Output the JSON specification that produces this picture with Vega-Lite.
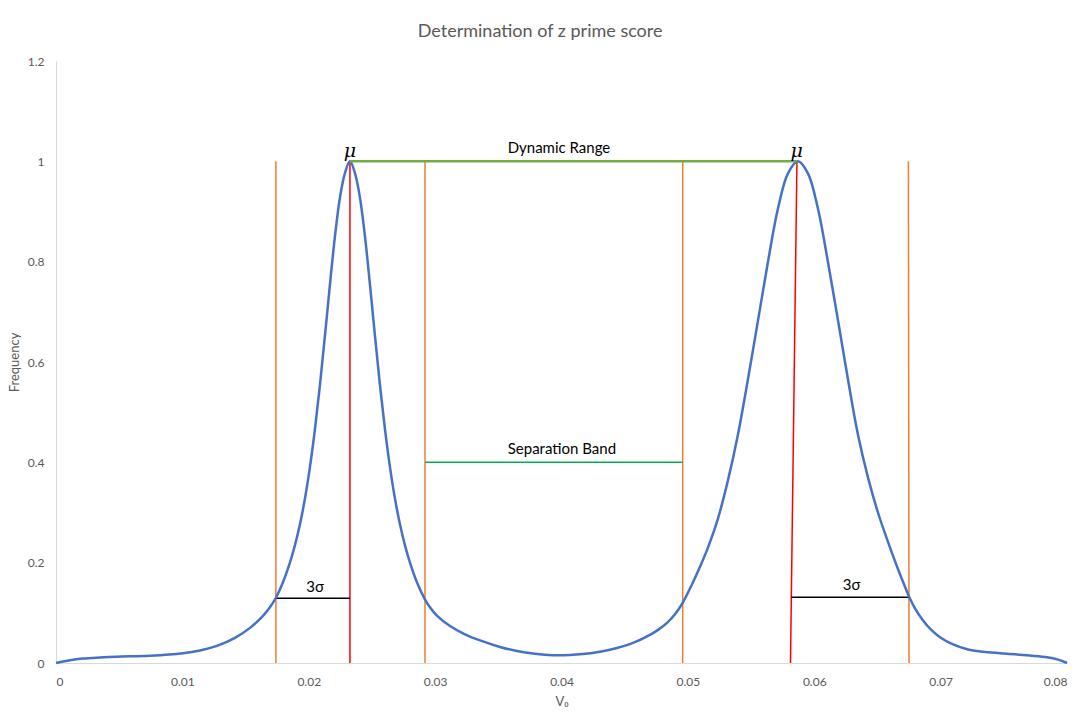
{
  "$schema": "https://vega.github.io/schema/vega-lite/v6.json",
  "autosize": {"type": "none"},
  "width": 1011,
  "height": 602,
  "padding": {"left": 56, "top": 61, "right": 18, "bottom": 52},
  "title": {
    "text": "Determination of z prime score",
    "font": "Lato",
    "fontSize": 18,
    "fontWeight": "normal",
    "color": "#595959",
    "anchor": "middle",
    "frame": "bounds",
    "offset": 14
  },
  "config": {
    "view": {"stroke": null},
    "font": "Lato",
    "axis": {
      "grid": false,
      "ticks": false,
      "domainColor": "#D9D9D9",
      "domainWidth": 1,
      "labelFont": "Lato",
      "labelFontSize": 12,
      "labelColor": "#595959",
      "titleFont": "Lato",
      "titleFontSize": 13,
      "titleFontWeight": "normal",
      "titleColor": "#595959"
    }
  },
  "datasets": {
    "curve": [
      {"v0": 0, "freq": 0},
      {"v0": 0.0011, "freq": 0.0055},
      {"v0": 0.00213, "freq": 0.0088},
      {"v0": 0.00348, "freq": 0.011},
      {"v0": 0.0048, "freq": 0.0126},
      {"v0": 0.00743, "freq": 0.0145},
      {"v0": 0.01005, "freq": 0.0195},
      {"v0": 0.01139, "freq": 0.025},
      {"v0": 0.01274, "freq": 0.034},
      {"v0": 0.01416, "freq": 0.05},
      {"v0": 0.01535, "freq": 0.07},
      {"v0": 0.01638, "freq": 0.094},
      {"v0": 0.01693, "freq": 0.111},
      {"v0": 0.0174, "freq": 0.13},
      {"v0": 0.01796, "freq": 0.161},
      {"v0": 0.01851, "freq": 0.2},
      {"v0": 0.01891, "freq": 0.235},
      {"v0": 0.0193, "freq": 0.276},
      {"v0": 0.0197, "freq": 0.328},
      {"v0": 0.02009, "freq": 0.39},
      {"v0": 0.02049, "freq": 0.466},
      {"v0": 0.02089, "freq": 0.555},
      {"v0": 0.02128, "freq": 0.652},
      {"v0": 0.02168, "freq": 0.755},
      {"v0": 0.02207, "freq": 0.85},
      {"v0": 0.02247, "freq": 0.928},
      {"v0": 0.02286, "freq": 0.976},
      {"v0": 0.02326, "freq": 1.0},
      {"v0": 0.02366, "freq": 0.976},
      {"v0": 0.02405, "freq": 0.928},
      {"v0": 0.02445, "freq": 0.85},
      {"v0": 0.02484, "freq": 0.755},
      {"v0": 0.02524, "freq": 0.652},
      {"v0": 0.02563, "freq": 0.555},
      {"v0": 0.02603, "freq": 0.466},
      {"v0": 0.02643, "freq": 0.39},
      {"v0": 0.02682, "freq": 0.328},
      {"v0": 0.02722, "freq": 0.276},
      {"v0": 0.02761, "freq": 0.235},
      {"v0": 0.02801, "freq": 0.2},
      {"v0": 0.02856, "freq": 0.161},
      {"v0": 0.02915, "freq": 0.129},
      {"v0": 0.02959, "freq": 0.111},
      {"v0": 0.03014, "freq": 0.0945},
      {"v0": 0.03118, "freq": 0.0737},
      {"v0": 0.03236, "freq": 0.0572},
      {"v0": 0.03378, "freq": 0.043},
      {"v0": 0.03513, "freq": 0.032},
      {"v0": 0.03647, "freq": 0.024},
      {"v0": 0.0379, "freq": 0.0185},
      {"v0": 0.03933, "freq": 0.0155},
      {"v0": 0.04067, "freq": 0.016},
      {"v0": 0.0417, "freq": 0.018},
      {"v0": 0.04305, "freq": 0.0225},
      {"v0": 0.04439, "freq": 0.03},
      {"v0": 0.04566, "freq": 0.04},
      {"v0": 0.047, "freq": 0.056},
      {"v0": 0.04764, "freq": 0.066},
      {"v0": 0.04835, "freq": 0.08},
      {"v0": 0.04898, "freq": 0.097},
      {"v0": 0.04961, "freq": 0.121},
      {"v0": 0.05033, "freq": 0.157},
      {"v0": 0.05096, "freq": 0.192},
      {"v0": 0.05159, "freq": 0.23},
      {"v0": 0.05238, "freq": 0.288},
      {"v0": 0.05317, "freq": 0.364},
      {"v0": 0.05396, "freq": 0.455},
      {"v0": 0.05475, "freq": 0.565},
      {"v0": 0.05555, "freq": 0.683},
      {"v0": 0.05634, "freq": 0.8},
      {"v0": 0.05713, "freq": 0.906},
      {"v0": 0.05792, "freq": 0.976},
      {"v0": 0.05871, "freq": 1.0},
      {"v0": 0.0595, "freq": 0.976},
      {"v0": 0.06029, "freq": 0.906},
      {"v0": 0.06108, "freq": 0.8},
      {"v0": 0.06188, "freq": 0.683},
      {"v0": 0.06267, "freq": 0.565},
      {"v0": 0.06346, "freq": 0.455},
      {"v0": 0.06425, "freq": 0.37},
      {"v0": 0.06504, "freq": 0.3},
      {"v0": 0.06584, "freq": 0.241},
      {"v0": 0.06663, "freq": 0.187},
      {"v0": 0.06702, "freq": 0.162},
      {"v0": 0.0675, "freq": 0.1325},
      {"v0": 0.06797, "freq": 0.109},
      {"v0": 0.06861, "freq": 0.0847},
      {"v0": 0.06924, "freq": 0.0664},
      {"v0": 0.06995, "freq": 0.0515},
      {"v0": 0.07098, "freq": 0.037},
      {"v0": 0.07217, "freq": 0.027},
      {"v0": 0.07335, "freq": 0.0225},
      {"v0": 0.0747, "freq": 0.0195},
      {"v0": 0.07588, "freq": 0.0172},
      {"v0": 0.07707, "freq": 0.0148},
      {"v0": 0.07842, "freq": 0.0115},
      {"v0": 0.07929, "freq": 0.0068},
      {"v0": 0.08, "freq": 0}
    ],
    "segments": [
      {"seg": "bound1", "kind": "bound", "v0": 0.0174, "freq": 0},
      {"seg": "bound1", "kind": "bound", "v0": 0.0174, "freq": 1},
      {"seg": "mean1", "kind": "mean", "v0": 0.02326, "freq": 0},
      {"seg": "mean1", "kind": "mean", "v0": 0.02326, "freq": 1},
      {"seg": "bound2", "kind": "bound", "v0": 0.0292, "freq": 0},
      {"seg": "bound2", "kind": "bound", "v0": 0.0292, "freq": 1},
      {"seg": "bound3", "kind": "bound", "v0": 0.04959, "freq": 0},
      {"seg": "bound3", "kind": "bound", "v0": 0.04959, "freq": 1},
      {"seg": "mean2", "kind": "mean", "v0": 0.05812, "freq": 0},
      {"seg": "mean2", "kind": "mean", "v0": 0.05863, "freq": 1},
      {"seg": "bound4", "kind": "bound", "v0": 0.0675, "freq": 0},
      {"seg": "bound4", "kind": "bound", "v0": 0.06745, "freq": 1},
      {"seg": "sigma1", "kind": "sigma", "v0": 0.0174, "freq": 0.129},
      {"seg": "sigma1", "kind": "sigma", "v0": 0.02326, "freq": 0.129},
      {"seg": "sigma2", "kind": "sigma", "v0": 0.05819, "freq": 0.131},
      {"seg": "sigma2", "kind": "sigma", "v0": 0.0675, "freq": 0.131},
      {"seg": "band", "kind": "band", "v0": 0.0292, "freq": 0.4},
      {"seg": "band", "kind": "band", "v0": 0.04959, "freq": 0.4},
      {"seg": "range", "kind": "range", "v0": 0.02326, "freq": 1},
      {"seg": "range", "kind": "range", "v0": 0.0586, "freq": 1}
    ],
    "labels": [
      {"text": "μ", "kind": "mu", "v0": 0.02326, "freq": 1.021},
      {"text": "μ", "kind": "mu", "v0": 0.0586, "freq": 1.021},
      {"text": "Dynamic Range", "kind": "note", "v0": 0.0398, "freq": 1.027},
      {"text": "Separation Band", "kind": "note", "v0": 0.04003, "freq": 0.4266},
      {"text": "3σ", "kind": "note", "v0": 0.0205, "freq": 0.151},
      {"text": "3σ", "kind": "note", "v0": 0.06296, "freq": 0.155}
    ]
  },
  "encoding": {
    "x": {
      "field": "v0",
      "type": "quantitative",
      "title": "V₀",
      "scale": {"domain": [0, 0.08], "nice": false, "zero": false},
      "axis": {
        "values": [0, 0.01, 0.02, 0.03, 0.04, 0.05, 0.06, 0.07, 0.08],
        "format": "~g",
        "labelPadding": 13,
        "titlePadding": 8
      }
    },
    "y": {
      "field": "freq",
      "type": "quantitative",
      "title": "Frequency",
      "scale": {"domain": [0, 1.2], "nice": false},
      "axis": {
        "values": [0, 0.2, 0.4, 0.6, 0.8, 1, 1.2],
        "format": "~g",
        "labelPadding": 12,
        "titlePadding": 6
      }
    }
  },
  "layer": [
    {
      "data": {"name": "segments"},
      "transform": [{"filter": "datum.kind !== 'range'"}],
      "mark": {"type": "line", "clip": false},
      "encoding": {
        "detail": {"field": "seg", "type": "nominal"},
        "color": {
          "field": "kind",
          "type": "nominal",
          "legend": null,
          "scale": {
            "domain": ["bound", "mean", "sigma", "band", "range"],
            "range": ["#ED7D31", "#FF0000", "#000000", "#00B050", "#70AD47"]
          }
        },
        "strokeWidth": {
          "field": "kind",
          "type": "nominal",
          "legend": null,
          "scale": {
            "domain": ["bound", "mean", "sigma", "band", "range"],
            "range": [1.5, 1.5, 1.5, 2.5, 2.5]
          }
        }
      }
    },
    {
      "data": {"name": "curve"},
      "mark": {"type": "line", "color": "#4472C4", "strokeWidth": 2.5, "interpolate": "catmull-rom"},
      "encoding": {}
    },
    {
      "data": {"name": "segments"},
      "transform": [{"filter": "datum.kind === 'range'"}],
      "mark": {"type": "line", "color": "#70AD47", "strokeWidth": 2.5},
      "encoding": {
        "detail": {"field": "seg", "type": "nominal"}
      }
    },
    {
      "data": {"name": "labels"},
      "transform": [{"filter": "datum.kind === 'note'"}],
      "mark": {"type": "text", "font": "Lato", "fontSize": 15, "color": "#000000"},
      "encoding": {"text": {"field": "text", "type": "nominal"}}
    },
    {
      "data": {"name": "labels"},
      "transform": [{"filter": "datum.kind === 'mu'"}],
      "mark": {"type": "text", "font": "DejaVu Serif", "fontStyle": "italic", "fontSize": 19, "color": "#000000"},
      "encoding": {"text": {"field": "text", "type": "nominal"}}
    }
  ]
}
